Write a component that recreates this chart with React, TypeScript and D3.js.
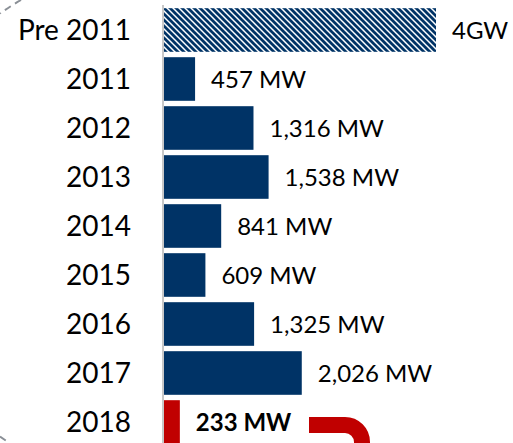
import React, { useRef, useEffect } from "react";
import * as d3 from "d3";

const categories = ["Pre 2011", "2011", "2012", "2013", "2014", "2015", "2016", "2017", "2018"];
const valuesMW = [4000, 457, 1316, 1538, 841, 609, 1325, 2026, 233];
const valueLabels = ["4GW", "457 MW", "1,316 MW", "1,538 MW", "841 MW", "609 MW", "1,325 MW", "2,026 MW", "233 MW"];

const NAVY = "#003366";
const RED = "#c00000";
const FONT = "Lato, 'Open Sans', sans-serif";

function InstallChart() {
  const ref = useRef<SVGSVGElement>(null);

  useEffect(() => {
    const svg = d3.select(ref.current);
    svg.selectAll("*").remove();

    const height = 443;
    const x0 = 164;

    const x = d3.scaleLinear().domain([0, 4000]).range([x0, x0 + 272]);
    const y = d3
      .scaleBand()
      .domain(categories)
      .range([5.5, 446.5])
      .paddingInner(0.11)
      .paddingOuter(0.055);

    // hatch pattern for the pre-2011 bar
    const defs = svg.append("defs");
    const pat = defs
      .append("pattern")
      .attr("id", "hatch")
      .attr("patternUnits", "userSpaceOnUse")
      .attr("width", 6)
      .attr("height", 6);
    pat.append("rect").attr("width", 6).attr("height", 6).attr("fill", "#fff");
    pat
      .append("path")
      .attr("d", "M-1,-1 L2,2 M0,0 L6,6 M5,5 L7,7 M-3,3 L3,9 M3,-3 L9,3")
      .attr("stroke", NAVY)
      .attr("stroke-width", 2.8);

    // dashed outline peeking in at the two left corners only
    svg
      .append("path")
      .attr("d", "M21,0 A261,261 0 0 0 0,13.5 M0,436.5 A261,261 0 0 0 9.5,443")
      .attr("fill", "none")
      .attr("stroke", "#8a8f96")
      .attr("stroke-width", 2)
      .attr("stroke-dasharray", "7,5");

    svg
      .append("g")
      .selectAll("rect")
      .data(categories)
      .join("rect")
      .attr("x", x0)
      .attr("y", (d) => y(d)!)
      .attr("width", (d, i) => x(valuesMW[i]) - x0)
      .attr("height", y.bandwidth())
      .attr("fill", (d, i) => (i === 0 ? "url(#hatch)" : i === categories.length - 1 ? RED : NAVY));

    // axis line
    svg
      .append("line")
      .attr("x1", x0 - 1)
      .attr("x2", x0 - 1)
      .attr("y1", 5)
      .attr("y2", height)
      .attr("stroke", "#c8c8c8")
      .attr("stroke-width", 2);

    // category labels
    svg
      .append("g")
      .selectAll("text")
      .data(categories)
      .join("text")
      .attr("x", 131)
      .attr("y", (d) => y(d)! + y.bandwidth() / 2)
      .attr("dy", "0.36em")
      .attr("text-anchor", "end")
      .attr("font-family", FONT)
      .attr("font-size", 28)
      .attr("fill", "#000")
      .text((d) => d);

    // value labels
    svg
      .append("g")
      .selectAll("text")
      .data(categories)
      .join("text")
      .attr("x", (d, i) => x(valuesMW[i]) + 16)
      .attr("y", (d) => y(d)! + y.bandwidth() / 2)
      .attr("dy", "0.36em")
      .attr("font-family", FONT)
      .attr("font-size", 24)
      .attr("font-weight", (d, i) => (i === categories.length - 1 ? "bold" : "normal"))
      .attr("fill", "#000")
      .text((d, i) => valueLabels[i]);

    // red arrow fragment at bottom
    svg
      .append("path")
      .attr("d", "M309,425 L345,425 A17,17 0 0 1 362,442 L362,450")
      .attr("fill", "none")
      .attr("stroke", RED)
      .attr("stroke-width", 16);
  }, []);

  return (
    <svg
      ref={ref}
      width={513}
      height={443}
      style={{ position: "absolute", left: 0, top: 0, background: "#fff" }}
    ></svg>
  );
}

export default function App() {
  return <InstallChart />;
}
